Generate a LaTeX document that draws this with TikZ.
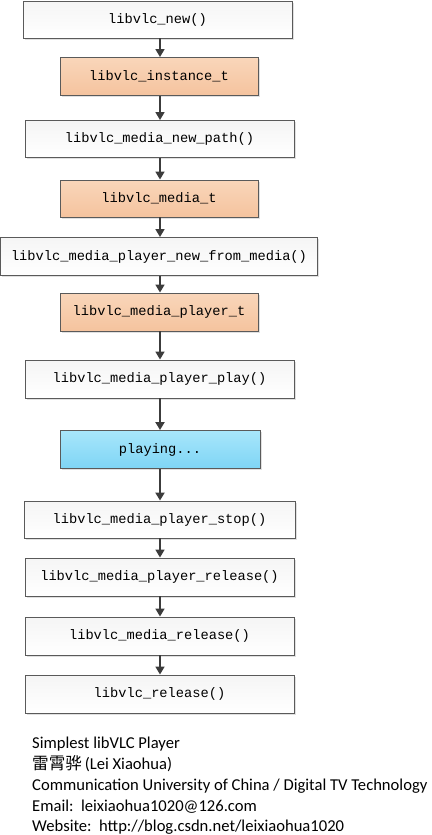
\documentclass[tikz,border=0pt]{standalone}
\usepackage{fontspec}
\setmainfont{Carlito}
\newfontfamily\codefont{Liberation Mono}
\newfontfamily\cjk{Noto Sans CJK SC}
\usetikzlibrary{shadows,arrows.meta}
\definecolor{bordergray}{HTML}{5A5A5A}
\definecolor{arrgray}{HTML}{3C3C3C}
\definecolor{orgtop}{HTML}{F9D6BA}
\definecolor{orgbot}{HTML}{F5C39E}
\definecolor{bluetop}{HTML}{A8E6FB}
\definecolor{bluebot}{HTML}{7ED5F5}
\tikzset{
  boxbase/.style={draw=bordergray, line width=0.9pt, inner sep=0pt,
    font=\codefont\fontsize{13.7}{14}\selectfont,
    drop shadow={shadow xshift=1.5pt, shadow yshift=-1.5pt, fill=black, opacity=0.12}},
  funbox/.style={boxbase, top color=gray!8, bottom color=white},
  typebox/.style={boxbase, top color=orgtop, bottom color=orgbot},
  playbox/.style={boxbase, top color=bluetop, bottom color=bluebot},
  arr/.style={draw=arrgray, line width=1.6pt, -{Triangle[width=9pt,length=8pt]}},
  arrthick/.style={arr, line width=2pt},
  info/.style={anchor=base west, inner sep=0pt, font=\fontsize{16.6}{18}\selectfont}
}
\begin{document}
\begin{tikzpicture}[x=1pt,y=-1pt]
\useasboundingbox (0,0) rectangle (431,835);
\node[funbox, minimum width=269pt, minimum height=37pt] (n1) at (157.5,19.5) {libvlc\_new()};
\node[typebox, minimum width=198pt, minimum height=38pt] (n2) at (159,76.5) {libvlc\_instance\_t};
\node[funbox, minimum width=269pt, minimum height=37pt] (n3) at (159.5,139) {libvlc\_media\_new\_path()};
\node[typebox, minimum width=198pt, minimum height=37pt] (n4) at (159,198.5) {libvlc\_media\_t};
\node[funbox, minimum width=317pt, minimum height=38pt] (n5) at (159,256.5) {libvlc\_media\_player\_new\_from\_media()};
\node[typebox, minimum width=198pt, minimum height=38pt] (n6) at (159,312) {libvlc\_media\_player\_t};
\node[funbox, minimum width=269pt, minimum height=38pt] (n7) at (159.5,379) {libvlc\_media\_player\_play()};
\node[playbox, minimum width=200pt, minimum height=38pt] (n8) at (160,449.5) {playing...};
\node[funbox, minimum width=271pt, minimum height=37pt] (n9) at (159.5,519.5) {libvlc\_media\_player\_stop()};
\node[funbox, minimum width=269pt, minimum height=38pt] (n10) at (159.5,577) {libvlc\_media\_player\_release()};
\node[funbox, minimum width=269pt, minimum height=38pt] (n11) at (159.5,636) {libvlc\_media\_release()};
\node[funbox, minimum width=269pt, minimum height=38pt] (n12) at (159.5,694) {libvlc\_release()};
\coordinate (ax) at (160,0);
\draw[arr] (n1.south -| ax) -- (n2.north -| ax);
\draw[arr] (n2.south -| ax) -- (n3.north -| ax);
\draw[arr] (n3.south -| ax) -- (n4.north -| ax);
\draw[arr] (n4.south -| ax) -- (n5.north -| ax);
\draw[arr] (n5.south -| ax) -- (n6.north -| ax);
\draw[arr] (n6.south -| ax) -- (n7.north -| ax);
\draw[arrthick] (n7.south -| ax) -- (n8.north -| ax);
\draw[arrthick] (n8.south -| ax) -- (n9.north -| ax);
\draw[arr] (n9.south -| ax) -- (n10.north -| ax);
\draw[arr] (n10.south -| ax) -- (n11.north -| ax);
\draw[arr] (n11.south -| ax) -- (n12.north -| ax);
\node[info] (t1) at (32,748) {Simplest libVLC Player};
\node[info] (t2) at (32,769) {{\cjk 雷霄骅}\,(Lei Xiaohua)};
\node[info] (t3) at (32,790) {Communication University of China / Digital TV Technology};
\node[info] (t4) at (32,811) {Email:\ \ leixiaohua1020@126.com};
\node[info] (t5) at (32,831) {Website:\ \ http://blog.csdn.net/leixiaohua1020};
\end{tikzpicture}
\end{document}
